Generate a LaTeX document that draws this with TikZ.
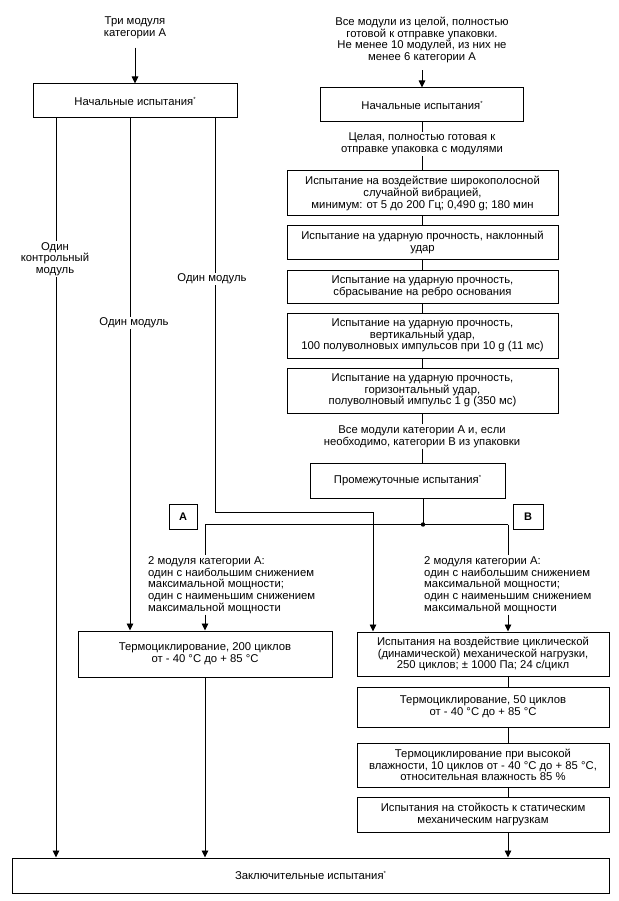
\documentclass[tikz,border=0pt]{standalone}
\usepackage{fontspec}
\setmainfont{Liberation Sans}
\usetikzlibrary{arrows.meta}
\newcommand\starmark{\raisebox{4pt}{\fontsize{6}{6}\selectfont *}}
\begin{document}
\begin{tikzpicture}[x=1pt,y=-1pt,
  font=\fontsize{11.3}{11.7}\selectfont,
  box/.style={draw, line width=1pt, inner sep=0pt, align=center},
  txt/.style={align=center, inner sep=1pt},
  lbl/.style={align=center, fill=white, inner sep=1pt},
  conn/.style={line width=0.9pt},
  arr/.style={conn, -{Triangle[length=7pt,width=6.5pt]}},
]
\useasboundingbox (0,0) rectangle (618,901);

% ---- top texts
\node[txt] (topL) at (135,27.5) {Три модуля\\категории А};
\node[txt] (topR) at (422,40) {Все модули из целой, полностью\\готовой к отправке упаковки.\\Не менее 10 модулей, из них не\\менее 6 категории А};

% ---- boxes
\node[box, minimum width=204, minimum height=34] (leftInit) at (135,101) {Начальные испытания\starmark};
\node[box, minimum width=203, minimum height=34] (rightInit) at (422,105) {Начальные испытания\starmark};
\node[txt] (pkg) at (422,144) {Целая, полностью готовая к\\отправке упаковка с модулями};
\node[box, minimum width=271, minimum height=45] (b1) at (422.5,193.5) {Испытание на воздействие широкополосной\\случайной вибрацией,\\минимум: от 5 до 200 Гц; 0,490 g; 180 мин};
\node[box, minimum width=271, minimum height=33] (b2) at (422.5,242.5) {Испытание на ударную прочность, наклонный\\удар};
\node[box, minimum width=271, minimum height=33] (b3) at (422.5,286.5) {Испытание на ударную прочность,\\сбрасывание на ребро основания};
\node[box, minimum width=271, minimum height=45] (b4) at (422.5,335.5) {Испытание на ударную прочность,\\вертикальный удар,\\100 полуволновых импульсов при 10 g (11 мс)};
\node[box, minimum width=271, minimum height=45] (b5) at (422.5,390.5) {Испытание на ударную прочность,\\горизонтальный удар,\\полуволновый импульс 1 g (350 мс)};
\node[txt] (allA) at (422,436.5) {Все модули категории А и, если\\необходимо, категории В из упаковки};
\node[box, minimum width=195, minimum height=35] (mid) at (407.5,480.5) {Промежуточные испытания\starmark};

\node[box, minimum width=28, minimum height=25, font=\fontsize{11}{11.7}\selectfont\bfseries] (boxA) at (183,516.5) {A};
\node[box, minimum width=30, minimum height=25, font=\fontsize{11}{11.7}\selectfont\bfseries] (boxB) at (528,516.5) {B};

\node[align=left, inner sep=1pt, anchor=west] (txtA) at (147,585) {2 модуля категории А:\\один с наибольшим снижением\\максимальной мощности;\\один с наименьшим снижением\\максимальной мощности};
\node[align=left, inner sep=1pt, anchor=west] (txtB) at (423,585) {2 модуля категории А:\\один с наибольшим снижением\\максимальной мощности;\\один с наименьшим снижением\\максимальной мощности};

\node[box, minimum width=254, minimum height=46] (term200) at (205,654) {Термоциклирование, 200 циклов\\от - 40 °C до + 85 °C};
\node[box, minimum width=252, minimum height=44] (r1) at (483,654) {Испытания на воздействие циклической\\(динамической) механической нагрузки,\\250 циклов; ± 1000 Па; 24 с/цикл};
\node[box, minimum width=252, minimum height=40] (r2) at (483,707) {Термоциклирование, 50 циклов\\от - 40 °C до + 85 °C};
\node[box, minimum width=252, minimum height=44] (r3) at (483,765) {Термоциклирование при высокой\\влажности, 10 циклов от - 40 °C до + 85 °C,\\относительная влажность 85 \%};
\node[box, minimum width=252, minimum height=35] (r4) at (483,814.5) {Испытания на стойкость к статическим\\механическим нагрузкам};
\node[box, minimum width=597, minimum height=35] (final) at (310.5,875.5) {Заключительные испытания\starmark};

% ---- helper coordinates
\coordinate (xL) at (56,0);
\coordinate (xM) at (130,0);
\coordinate (xR) at (215,0);
\coordinate (jog) at (373,512);
\coordinate (dot) at (423,524.5);
\coordinate (cA) at (205,524.5);
\coordinate (cB) at (508,524.5);

% ---- connectors
\draw[arr] ([yshift=-8pt]topL.south) -- (leftInit.north);
\draw[arr] ([yshift=-6pt]topR.south) -- (rightInit.north -| topR.south);
\draw[conn] (rightInit.south -| pkg.north) -- (pkg.north);
\draw[conn] (pkg.south) -- (b1.north -| pkg.south);
\draw[conn] (b1.south -| pkg.south) -- (b2.north -| pkg.south);
\draw[conn] (b2.south -| pkg.south) -- (b3.north -| pkg.south);
\draw[conn] (b3.south -| pkg.south) -- (b4.north -| pkg.south);
\draw[conn] (b4.south -| pkg.south) -- (b5.north -| pkg.south);
\draw[conn] (b5.south -| allA.north) -- (allA.north);
\draw[conn] (allA.south) -- (mid.north -| allA.south);
\draw[conn] (mid.south -| dot) -- (dot);
\draw[conn] (cA) -- (cB);
\fill (dot) circle (2.2pt);
\draw[conn] (cA) -- (cA |- txtA.north);
\draw[arr] (cA |- txtA.south) -- (term200.north);
\draw[conn] (cB) -- (cB |- txtB.north);
\draw[arr] (cB |- txtB.south) -- (r1.north -| cB);

\draw[arr] (leftInit.south -| xL) -- (final.north -| xL);
\draw[arr] (leftInit.south -| xM) -- (term200.north -| xM);
\draw[arr] (leftInit.south -| xR) |- (jog) -- (r1.north -| jog);

\draw[arr] (term200.south) -- (final.north -| term200.south);
\draw[conn] (r1.south -| cB) -- (r2.north -| cB);
\draw[conn] (r2.south -| cB) -- (r3.north -| cB);
\draw[conn] (r3.south -| cB) -- (r4.north -| cB);
\draw[arr] (r4.south -| cB) -- (final.north -| cB);

% ---- labels on lines
\node[lbl] (lblCtrl) at (55,259) {Один\\контрольный\\модуль};
\node[lbl] (lblMid) at (134,323) {Один модуль};
\node[lbl] (lblR) at (212,279) {Один модуль};
\end{tikzpicture}
\end{document}
